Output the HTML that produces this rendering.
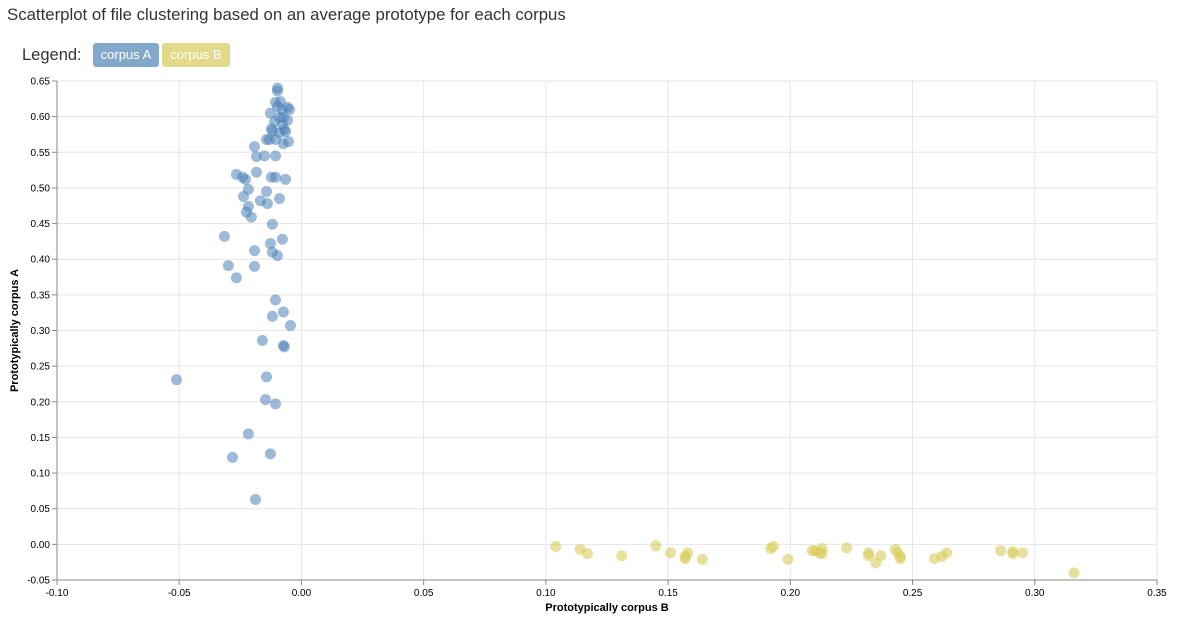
<!DOCTYPE html>
<html><head><meta charset="utf-8"><style>
body{margin:0;background:#fff;font-family:"Liberation Sans",sans-serif;}
#title{position:absolute;left:7px;top:5px;font-size:16.8px;color:#333;}
#legend{position:absolute;left:22px;top:43px;font-size:16.5px;color:#333;display:flex;align-items:center;}
.chip{display:inline-block;height:24px;line-height:24px;padding:0 8px;border-radius:3px;color:#fff;font-size:13px;margin-left:3px;}
</style></head><body>
<div id="title">Scatterplot of file clustering based on an average prototype for each corpus</div>
<div id="legend"><span style="margin-right:8px">Legend:</span><span class="chip" style="background:#82a9cc">corpus A</span><span class="chip" style="background:#e3d98a">corpus B</span></div>
<svg id="chart" width="1184" height="622" style="position:absolute;left:0;top:0"></svg>
<script>
const xTicks=[-0.10,-0.05,0.00,0.05,0.10,0.15,0.20,0.25,0.30,0.35];
const yTicks=[-0.05,0.00,0.05,0.10,0.15,0.20,0.25,0.30,0.35,0.40,0.45,0.50,0.55,0.60,0.65];
const aX=[-0.0098,-0.0098,-0.0106,-0.0086,-0.0057,-0.0049,-0.0098,-0.0078,-0.0127,-0.009,-0.0074,-0.0057,-0.011,-0.0078,-0.0123,-0.007,-0.0065,-0.009,-0.0119,-0.0053,-0.0106,-0.0074,-0.0143,-0.0131,-0.0192,-0.0151,-0.0106,-0.0184,-0.0266,-0.0241,-0.0229,-0.0184,-0.0123,-0.0106,-0.0065,-0.0143,-0.0217,-0.0237,-0.0168,-0.0139,-0.009,-0.0217,-0.0225,-0.0205,-0.0119,-0.0315,-0.0078,-0.0127,-0.0192,-0.0119,-0.0098,-0.0299,-0.0192,-0.0266,-0.0106,-0.0074,-0.0045,-0.0119,-0.016,-0.0074,-0.007,-0.0511,-0.0143,-0.0147,-0.0106,-0.0217,-0.0282,-0.0127,-0.0188];
const aY=[0.640,0.636,0.620,0.621,0.613,0.610,0.614,0.609,0.605,0.599,0.599,0.595,0.593,0.589,0.583,0.582,0.579,0.577,0.580,0.565,0.568,0.562,0.568,0.568,0.558,0.545,0.545,0.544,0.519,0.515,0.512,0.522,0.515,0.515,0.512,0.495,0.498,0.488,0.482,0.478,0.485,0.474,0.466,0.459,0.449,0.432,0.428,0.422,0.412,0.410,0.405,0.391,0.390,0.374,0.343,0.326,0.307,0.320,0.286,0.279,0.277,0.231,0.235,0.203,0.197,0.155,0.122,0.127,0.063];
const bX=[0.104,0.114,0.117,0.131,0.145,0.151,0.157,0.158,0.157,0.164,0.192,0.193,0.199,0.209,0.210,0.212,0.213,0.213,0.223,0.232,0.232,0.235,0.237,0.243,0.244,0.245,0.245,0.259,0.262,0.264,0.286,0.291,0.291,0.295,0.316];
const bY=[-0.003,-0.007,-0.013,-0.016,-0.002,-0.012,-0.017,-0.012,-0.020,-0.021,-0.006,-0.003,-0.021,-0.009,-0.009,-0.012,-0.006,-0.013,-0.005,-0.012,-0.016,-0.026,-0.016,-0.007,-0.012,-0.017,-0.020,-0.020,-0.017,-0.012,-0.009,-0.010,-0.013,-0.012,-0.040];
const L=57,R=1157,T=81,B=580;
const sx=v=>L+(v+0.10)/0.45*(R-L);
const sy=v=>B-(v+0.05)/0.70*(B-T);
const svg=document.getElementById('chart');
const NS='http://www.w3.org/2000/svg';
function mk(tag,attrs){const e=document.createElementNS(NS,tag);for(const k in attrs)e.setAttribute(k,attrs[k]);svg.appendChild(e);return e;}
xTicks.forEach(t=>{const x=sx(t);
 const g=mk('line',{x1:x,x2:x,y1:T,y2:B,stroke:'#e6e6e6'});
 
 const k=mk('line',{x1:x,x2:x,y1:B,y2:B+5,stroke:'#888'});
 
 const l=mk('text',{x:x,y:B+16,'text-anchor':'middle','font-size':10,fill:'#000'});l.textContent=t.toFixed(2);
 });
yTicks.forEach(t=>{const y=sy(t);
 const g=mk('line',{x1:L,x2:R,y1:y,y2:y,stroke:'#e6e6e6'});
 
 const k=mk('line',{x1:L-5,x2:L,y1:y,y2:y,stroke:'#888'});
 
 const l=mk('text',{x:L-7,y:y+3.5,'text-anchor':'end','font-size':10,fill:'#000'});l.textContent=t.toFixed(2);
 });
const ax=mk('line',{x1:L,x2:R,y1:B,y2:B,stroke:'#888'});

const ay=mk('line',{x1:L,x2:L,y1:T,y2:B,stroke:'#888'});

const xt=mk('text',{x:(L+R)/2,y:611,'text-anchor':'middle','font-size':11,'font-weight':'bold',fill:'#000'});xt.textContent='Prototypically corpus B';

const yt=mk('text',{x:0,y:0,'text-anchor':'middle','font-size':11,'font-weight':'bold',fill:'#000',transform:'translate(18,'+(T+B)/2+') rotate(-90)'});yt.textContent='Prototypically corpus A';

aX.forEach((v,i)=>{const c=mk('circle',{cx:sx(v),cy:sy(aY[i]),r:5.5,fill:'#4c82b8','fill-opacity':0.55});
 });
bX.forEach((v,i)=>{const c=mk('circle',{cx:sx(v),cy:sy(bY[i]),r:5.5,fill:'#d8cc5c','fill-opacity':0.6});
 });
</script>
</body></html>
